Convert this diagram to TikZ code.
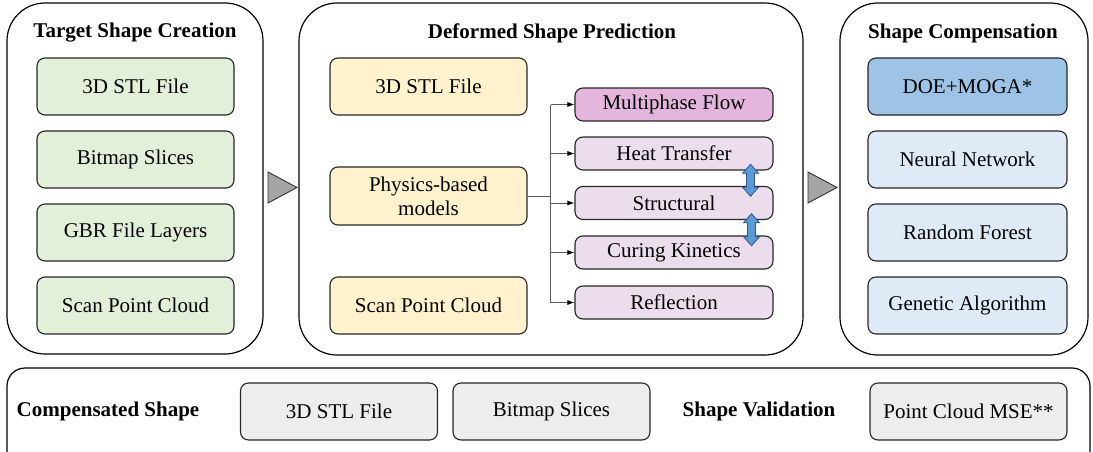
\documentclass[tikz,border=0pt]{standalone}
\usepackage{fontspec}
\setmainfont{Liberation Serif}
\usetikzlibrary{calc,arrows.meta}
\definecolor{greenF}{HTML}{E2F0D9}
\definecolor{yellowF}{HTML}{FFF2CC}
\definecolor{mpF}{HTML}{E4B6DE}
\definecolor{lavF}{HTML}{EBDDEB}
\definecolor{blueD}{HTML}{9DC3E6}
\definecolor{blueL}{HTML}{DEEBF7}
\definecolor{grayF}{HTML}{EDEDED}
\definecolor{triF}{HTML}{A5A5A5}
\definecolor{arrF}{HTML}{5B9BD5}
\definecolor{arrD}{HTML}{2F5597}
\definecolor{lineC}{HTML}{595959}
\begin{document}
\begin{tikzpicture}[x=1pt,y=-1pt,
  font=\fontsize{21}{24}\selectfont,
  panel/.style={draw=black, line width=1.2pt, rounded corners=38pt, inner sep=0pt},
  title/.style={font=\fontsize{21}{24}\selectfont\bfseries, inner sep=0pt},
  box/.style={draw=black!85, line width=1.1pt, rounded corners=8pt, inner sep=0pt, align=center},
  bigbox/.style={box, minimum width=197pt, minimum height=57pt},
  smallbox/.style={box, minimum width=198pt, minimum height=33pt},
  conn/.style={draw=lineC, line width=0.8pt},
  arr/.style={conn, -{Latex[length=7pt,width=5pt,color=black]}},
  flowtri/.style={draw=black!80, line width=0.9pt, fill=triF},
  dbl/.style={draw=arrD, line width=0.8pt, fill=arrF, line join=miter}
]
\useasboundingbox (0,0) rectangle (1093,452);

% ---- panels ----
\node[panel, minimum width=256pt, minimum height=351pt] (tsc) at (135,178.5) {};
\node[panel, minimum width=504pt, minimum height=352pt] (dsp) at (551,179) {};
\node[panel, minimum width=248pt, minimum height=352pt] (sc) at (964,179) {};
\node[panel, rounded corners=18pt, minimum width=1083pt, minimum height=102pt] (cs) at (548.5,419) {};

% ---- target shape creation ----
\node[title] (t1) at (135,33) {Target Shape Creation};
\node[bigbox, fill=greenF] (g1) at (135.5,86.5) {3D STL File};
\node[bigbox, fill=greenF] (g2) at (135.5,159.5) {Bitmap Slices};
\node[bigbox, fill=greenF] (g3) at (135.5,232.5) {GBR File Layers};
\node[bigbox, fill=greenF] (g4) at (135.5,305.5) {Scan Point Cloud};

% ---- deformed shape prediction ----
\node[title] (t2) at (552,33) {Deformed Shape Prediction};
\node[bigbox, fill=yellowF] (y1) at (428.5,86.5) {3D STL File};
\node[bigbox, fill=yellowF, minimum height=58pt] (phys) at (428.5,196) {Physics-based\\models};
\node[bigbox, fill=yellowF] (y3) at (428.5,305.5) {Scan Point Cloud};

\node[smallbox, fill=mpF]  (mp)     at (674,104.5) {Multiphase Flow};
\node[smallbox, fill=lavF] (heat)   at (674,153.5) {Heat Transfer};
\node[smallbox, fill=lavF] (struct) at (674,203)   {Structural};
\node[smallbox, fill=lavF] (cure)   at (674,252.5) {Curing Kinetics};
\node[smallbox, fill=lavF] (refl)   at (674,302.5) {Reflection};

% branching connector from the physics models
\draw[conn] (phys.east) -- ++(23,0) coordinate (j);
\draw[conn] (j |- mp.west) -- (j |- refl.west);
\foreach \m in {mp,heat,struct,cure,refl}
  \draw[arr] (j |- \m.west) -- (\m.west);

% coupling arrows between physics
\coordinate (c1) at ($(heat.south east)!.5!(struct.north east)+(-23,2)$);
\coordinate (c2) at ($(struct.south east)!.5!(cure.north east)+(-22,2)$);
\foreach \c in {c1,c2}
  \draw[dbl] (\c) ++(0,-16) -- ++(8,9) -- ++(-4,0) -- ++(0,14) -- ++(4,0)
    -- ++(-8,9) -- ++(-8,-9) -- ++(4,0) -- ++(0,-14) -- ++(-4,0) -- cycle;

% ---- shape compensation ----
\node[title] (t3) at (963,33) {Shape Compensation};
\node[bigbox, fill=blueD, minimum width=199pt] (b1) at (967.5,86.5) {DOE+MOGA*};
\node[bigbox, fill=blueL, minimum width=199pt] (b2) at (967.5,159.5) {Neural Network};
\node[bigbox, fill=blueL, minimum width=199pt] (b3) at (967.5,232.5) {Random Forest};
\node[bigbox, fill=blueL, minimum width=199pt] (b4) at (967.5,305.5) {Genetic Algorithm};

% ---- flow triangles between panels ----
\draw[flowtri] (268,172) -- (297,187.5) -- (268,203) -- cycle;
\draw[flowtri] (808,172) -- (837,187.5) -- (808,203) -- cycle;

% ---- compensated shape / validation ----
\node[title] (t4) at (108,411.5) {Compensated Shape};
\node[bigbox, fill=grayF] (s1) at (339,411.5) {3D STL File};
\node[bigbox, fill=grayF] (s2) at (551.5,411.5) {Bitmap Slices};
\node[title] (t5) at (759,411.5) {Shape Validation};
\node[bigbox, fill=grayF] (s3) at (968.5,411.5) {Point Cloud MSE**};
\end{tikzpicture}
\end{document}
